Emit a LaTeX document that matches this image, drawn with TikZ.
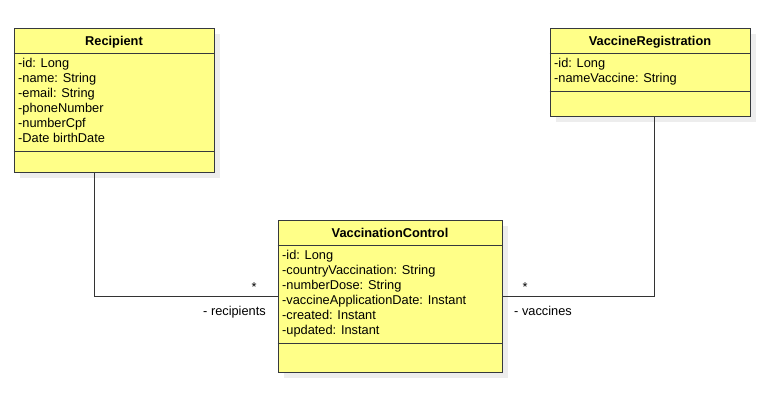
\documentclass[tikz,border=0pt]{standalone}
\usepackage{fontspec}
\setmainfont{Liberation Sans}
\usetikzlibrary{shadows}
\definecolor{notefill}{HTML}{FFFF88}
\definecolor{noteline}{HTML}{36393D}
\definecolor{shadowgray}{HTML}{EDEDED}
\begin{document}
\begin{tikzpicture}[x=1pt,y=-1pt,
	classbox/.style={draw=noteline,fill=notefill,line width=1pt,inner sep=0pt,
		drop shadow={shadow xshift=6pt,shadow yshift=-6pt,fill=shadowgray,opacity=1}},
	classname/.style={anchor=base,inner sep=0pt,font=\fontsize{12.8}{15}\selectfont\bfseries},
	attr/.style={anchor=base west,inner sep=0pt,font=\fontsize{12.8}{15}\selectfont},
	sep/.style={draw=noteline,line width=1pt},
	assoc/.style={draw=black!80,line width=1pt},
	role/.style={inner sep=0pt,font=\fontsize{12.8}{15}\selectfont}]
	\useasboundingbox (0,0) rectangle (768,402);
	% classes
	\node[classbox,minimum width=200pt,minimum height=144pt] (rec) at (114,100) {};
	\node[classbox,minimum width=200pt,minimum height=88pt] (vr) at (650,72) {};
	\node[classbox,minimum width=224pt,minimum height=152pt] (vc) at (390,296) {};
	\draw[sep] (rec.west |- 0,53) -- (rec.east |- 0,53);
	\draw[sep] (rec.west |- 0,151) -- (rec.east |- 0,151);
	\draw[sep] (vr.west |- 0,53) -- (vr.east |- 0,53);
	\draw[sep] (vr.west |- 0,91) -- (vr.east |- 0,91);
	\draw[sep] (vc.west |- 0,245) -- (vc.east |- 0,245);
	\draw[sep] (vc.west |- 0,343) -- (vc.east |- 0,343);
	\node[classname] (recname) at (114,45) {Recipient};
	\node[classname] (vrname) at (650,45) {VaccineRegistration};
	\node[classname] (vcname) at (390,237) {VaccinationControl};
	\foreach \i/\txt in {0/-id: Long,1/-name: String,2/-email: String,3/-phoneNumber,4/-numberCpf,5/-Date birthDate}
	\node[attr] (rec-\i) at (18,67.5+15*\i) {\txt};
	\foreach \i/\txt in {0/-id: Long,1/-nameVaccine: String}
	\node[attr] (vr-\i) at (554,67.5+15*\i) {\txt};
	\foreach \i/\txt in {0/-id: Long,1/-countryVaccination: String,2/-numberDose: String,3/-vaccineApplicationDate: Instant,4/-created: Instant,5/-updated: Instant}
	\node[attr] (vc-\i) at (282,259+15*\i) {\txt};
	% associations
	\coordinate (recport) at ([xshift=-20pt]rec.south);
	\coordinate (vrport) at ([xshift=4pt]vr.south);
	\draw[assoc] (recport) |- (vc.west);
	\draw[assoc] (vc.east) -| (vrport);
	\node[role,anchor=base] (recstar) at (254,291) {*};
	\node[role,anchor=base east] (recrole) at (266,315) {- recipients};
	\node[role,anchor=base] (vrstar) at (525,291) {*};
	\node[role,anchor=base west] (vrrole) at (514,315) {- vaccines};
\end{tikzpicture}
\end{document}
